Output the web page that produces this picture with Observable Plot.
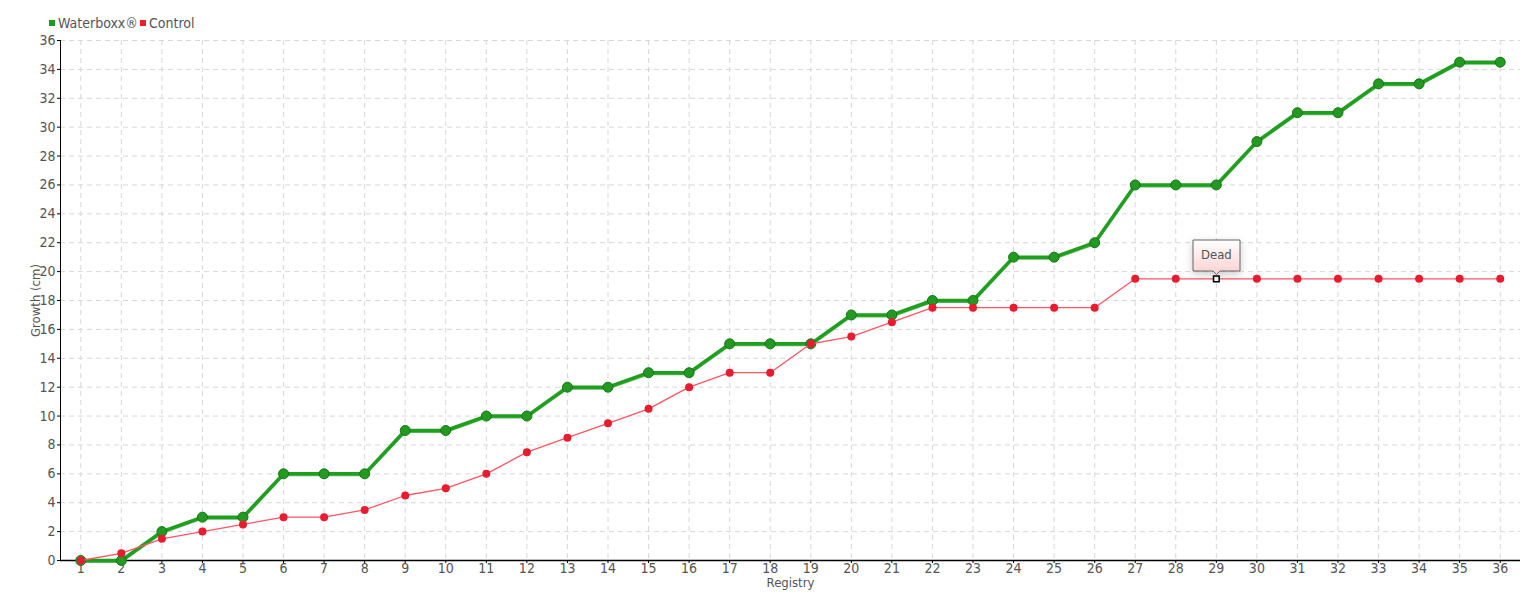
<!DOCTYPE html>
<html>
<head>
<meta charset="utf-8">
<script src="https://cdn.jsdelivr.net/npm/d3@7"></script>
<script src="https://cdn.jsdelivr.net/npm/@observablehq/plot@0.6"></script>
<style>
  body { margin: 0; background: #fff; font-family: "DejaVu Sans Condensed", "DejaVu Sans", sans-serif; font-stretch: condensed; }
  #legend { height: 30px; position: relative; font-size: 14px; color: #555; }
  #legend .item { position: absolute; top: 15px; display: flex; align-items: center; gap: 3px; }
  #legend .sw { width: 6px; height: 6px; display: inline-block; }
  #chart svg { overflow: visible; }
</style>
</head>
<body>
<div id="legend"></div>
<div id="chart"></div>
<script>
const registry = d3.range(1, 37);
const waterboxx = [0,0,2,3,3,6,6,6,9,9,10,10,12,12,13,13,15,15,15,17,17,18,18,21,21,22,26,26,26,29,31,31,33,33,34.5,34.5];
const control = [0,0.5,1.5,2,2.5,3,3,3.5,4.5,5,6,7.5,8.5,9.5,10.5,12,13,13,15,15.5,16.5,17.5,17.5,17.5,17.5,17.5,19.5,19.5,19.5,19.5,19.5,19.5,19.5,19.5,19.5,19.5];
const yTicks = d3.range(0, 37, 2);
const seriesNames = ["Waterboxx®", "Control"];
const seriesColors = ["#1f9a1f", "#ee1d2f"];
const annotations = [{registry: 29, series: "Control", label: "Dead"}];

const wb = registry.map((r, i) => ({registry: r, value: waterboxx[i]}));
const ct = registry.map((r, i) => ({registry: r, value: control[i]}));
const deadSet = new Set(annotations.map(a => a.registry));
const annData = annotations.map(a => ({registry: a.registry, value: control[a.registry - 1], label: a.label}));

// legend
const legend = document.getElementById("legend");
const lx = [49, 140];
seriesNames.forEach((n, i) => {
  const d = document.createElement("div");
  d.className = "item";
  d.style.left = lx[i] + "px";
  d.innerHTML = `<span class="sw" style="background:${seriesColors[i]}"></span><span>${n}</span>`;
  legend.appendChild(d);
});

const font = '"DejaVu Sans Condensed", "DejaVu Sans", sans-serif';
const plot = Plot.plot({
  width: 1540,
  height: 570,
  marginLeft: 60,
  marginRight: 20,
  marginTop: 10,
  marginBottom: 40,
  style: {fontFamily: font, fontSize: "14px", color: "#555", fontStretch: "condensed"},
  x: {domain: [0.5, 36.5], label: null},
  y: {domain: [0, 36], label: null},
  marks: [
    Plot.gridY(yTicks, {stroke: "#d8d8d8", strokeOpacity: 1, strokeDasharray: "5,4"}),
    Plot.gridX(registry, {stroke: "#d8d8d8", strokeOpacity: 1, strokeDasharray: "5,4"}),
    Plot.axisY(yTicks, {tickSize: 3, tickPadding: 2, fontSize: 14, fill: "#555", stroke: "#000", label: null}),
    Plot.axisX(registry, {tickSize: 3, tickPadding: 0, fontSize: 14, fill: "#555", stroke: "#000", label: null, tickFormat: d => String(d)}),
    Plot.text(["Growth (cm)"], {frameAnchor: "left", textAnchor: "middle", dx: -25, rotate: -90, fontSize: 13, fill: "#555"}),
    Plot.text(["Registry"], {frameAnchor: "bottom", dy: 26, fontSize: 13, fill: "#555"}),
    Plot.ruleY([0], {stroke: "#000", strokeWidth: 1.5}),
    Plot.frame({anchor: "left", stroke: "#000"}),
    Plot.line(wb, {x: "registry", y: "value", stroke: "#5fbf5f", strokeWidth: 2, dy: 1.5}),
    Plot.line(wb, {x: "registry", y: "value", stroke: "#1f9e1f", strokeWidth: 3.5}),
    Plot.dot(wb, {x: "registry", y: "value", r: 5, fill: "#229a22", stroke: "#177417", strokeWidth: 1}),
    Plot.line(ct, {x: "registry", y: "value", stroke: "#ff5564", strokeWidth: 1.3}),
    Plot.dot(ct.filter(d => !deadSet.has(d.registry)), {x: "registry", y: "value", r: 4, fill: "#e81c2e"}),
    Plot.dot(annData, {x: "registry", y: "value", symbol: "square", r: 3.2, fill: "#fff", stroke: "#000", strokeWidth: 1.5}),
    Plot.tip(annData, {x: "registry", y: "value", title: "label", anchor: "bottom", pointerSize: 7, fill: "url(#deadGrad)", stroke: "#666", fontSize: 13, textPadding: 8, dy: -4})
  ]
});

// gradient for tooltip box
const ns = "http://www.w3.org/2000/svg";
const defs = document.createElementNS(ns, "defs");
defs.innerHTML = `<linearGradient id="deadGrad" x1="0" y1="0" x2="0" y2="1"><stop offset="0" stop-color="#ffffff"/><stop offset="1" stop-color="#fbd0d0"/></linearGradient>`;
plot.insertBefore(defs, plot.firstChild);
document.getElementById("chart").appendChild(plot);
</script>
</body>
</html>
